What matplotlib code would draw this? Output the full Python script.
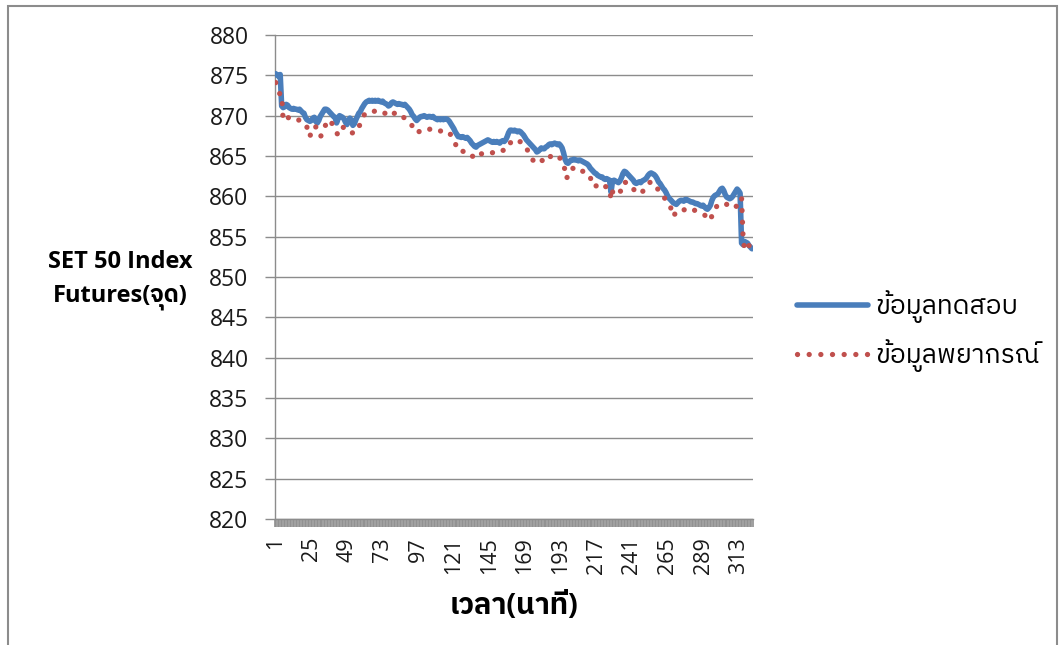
import matplotlib
matplotlib.use("Agg")
import matplotlib.pyplot as plt
from matplotlib import font_manager
from matplotlib.ft2font import FT2Font
from matplotlib.patches import Rectangle
from matplotlib.ticker import FixedLocator

# ---- data -----------------------------------------------------------------
minutes = list(range(1, 323))

test_values = [
    875.2, 875.0, 874.9, 875.1, 871.2,
    871.0, 871.1, 871.4, 871.3, 871.0,
    870.9, 870.8, 870.9, 870.8, 870.8,
    870.7, 870.8, 870.6, 870.4, 870.3,
    869.8, 869.5, 869.4, 869.3, 869.4,
    869.7, 869.8, 869.3, 869.1, 869.4,
    869.9, 870.2, 870.5, 870.8, 870.8,
    870.7, 870.5, 870.3, 870.1, 869.9,
    869.8, 869.1, 869.6, 870.0, 869.9,
    869.8, 869.6, 869.2, 868.9, 869.4,
    869.7, 869.4, 868.8, 869.0, 869.5,
    869.9, 870.3, 870.5, 870.9, 871.2,
    871.5, 871.7, 871.8, 871.9, 871.8,
    871.9, 871.8, 871.9, 871.8, 871.9,
    871.8, 871.7, 871.8, 871.6, 871.5,
    871.4, 871.2, 871.3, 871.6, 871.7,
    871.6, 871.5, 871.4, 871.5, 871.4,
    871.4, 871.3, 871.4, 871.2, 871.0,
    870.8, 870.5, 870.1, 869.9, 869.6,
    869.4, 869.6, 869.8, 869.9, 869.9,
    870.0, 869.9, 869.8, 869.9, 869.9,
    869.8, 869.9, 869.7, 869.6, 869.5,
    869.6, 869.5, 869.6, 869.5, 869.6,
    869.6, 869.5, 869.3, 869.0, 868.7,
    868.4, 868.0, 867.7, 867.4, 867.4,
    867.3, 867.4, 867.3, 867.2, 867.3,
    867.1, 866.9, 866.6, 866.4, 866.2,
    866.1, 866.3, 866.4, 866.5, 866.6,
    866.7, 866.8, 866.9, 867.0, 866.9,
    866.8, 866.7, 866.8, 866.7, 866.8,
    866.7, 866.6, 866.8, 866.9, 866.8,
    867.0, 867.4, 867.9, 868.2, 868.2,
    868.1, 868.2, 868.1, 868.0, 868.1,
    868.0, 867.8, 867.6, 867.3, 867.0,
    866.8, 866.6, 866.4, 866.2, 866.0,
    865.8, 865.5, 865.6, 865.8, 866.0,
    865.9, 865.9, 866.1, 866.2, 866.4,
    866.5, 866.4, 866.5, 866.6, 866.5,
    866.4, 866.5, 866.3, 866.0, 865.4,
    864.6, 864.2, 864.1, 864.3, 864.5,
    864.5, 864.6, 864.5, 864.5, 864.4,
    864.5, 864.4, 864.3, 864.2, 864.1,
    864.0, 863.8, 863.5, 863.3, 863.1,
    862.9, 862.8, 862.6, 862.5, 862.4,
    862.4, 862.2, 862.1, 862.2, 862.1,
    862.0, 860.5, 861.9, 862.0, 861.9,
    861.8, 861.7, 861.9, 862.3, 862.8,
    863.1, 863.0, 862.8, 862.6, 862.4,
    862.2, 862.0, 861.7, 861.6, 861.7,
    861.8, 861.7, 861.9, 862.0, 862.1,
    862.3, 862.6, 862.8, 862.9, 862.8,
    862.7, 862.5, 862.2, 861.8, 861.6,
    861.3, 861.0, 860.8, 860.5, 860.1,
    859.8, 859.6, 859.4, 859.2, 859.1,
    859.0, 859.2, 859.4, 859.5, 859.5,
    859.4, 859.6, 859.6, 859.5, 859.4,
    859.3, 859.3, 859.2, 859.1, 859.1,
    859.0, 858.9, 858.8, 858.9, 858.7,
    858.5, 858.4, 858.6, 858.9, 859.5,
    859.9, 860.1, 860.2, 860.3, 860.6,
    860.9, 861.0, 860.7, 860.2, 859.9,
    859.8, 859.7, 859.8, 860.0, 860.3,
    860.6, 860.9, 860.7, 860.4, 854.2,
    854.0, 854.4, 854.3, 854.2, 853.9,
    853.7, 853.5,
]

forecast_values = [
    874.1, 873.5, 873.0, 872.6, 872.6,
    869.4, 869.5, 869.7, 869.8, 869.7,
    869.6, 869.5, 869.5, 869.6, 869.5,
    869.4, 869.5, 869.3, 869.0, 868.8,
    868.7, 868.6, 867.6, 867.4, 868.0,
    868.5, 868.7, 868.6, 868.2, 867.8,
    867.4, 867.6, 868.3, 868.6, 869.0,
    869.4, 869.5, 869.3, 869.0, 868.7,
    868.4, 867.9, 867.6, 867.9, 868.3,
    868.6, 868.5, 868.3, 868.1, 868.0,
    868.0, 867.8, 867.9, 867.9, 867.9,
    868.1, 868.5, 869.1, 869.5, 869.9,
    870.2, 870.3, 870.4, 870.5, 870.5,
    870.6, 870.5, 870.6, 870.5, 870.5,
    870.4, 870.5, 870.4, 870.3, 870.3,
    870.2, 870.0, 869.9, 870.0, 870.2,
    870.3, 870.3, 870.2, 870.3, 870.2,
    870.0, 869.8, 869.7, 869.6, 869.4,
    869.2, 869.1, 868.7, 868.3, 868.0,
    868.0, 867.9, 868.1, 868.2, 868.2,
    868.3, 868.4, 868.4, 868.4, 868.3,
    868.4, 868.3, 868.3, 868.2, 868.2,
    868.2, 868.1, 868.1, 868.0, 868.1,
    868.0, 868.0, 867.9, 867.6, 867.2,
    867.0, 866.6, 866.0, 865.8, 865.6,
    865.5, 865.6, 865.5, 865.4, 865.3,
    865.4, 865.3, 865.1, 864.9, 864.7,
    864.7, 864.8, 865.0, 865.2, 865.3,
    865.3, 865.4, 865.5, 865.5, 865.5,
    865.5, 865.4, 865.5, 865.4, 865.4,
    865.5, 865.6, 865.6, 865.7, 865.7,
    865.7, 865.9, 866.3, 866.6, 866.8,
    866.6, 866.7, 866.8, 866.8, 866.7,
    866.8, 866.6, 866.4, 866.1, 866.0,
    865.6, 865.1, 864.8, 864.6, 864.3,
    864.2, 864.1, 864.2, 864.4, 864.5,
    864.4, 864.5, 864.3, 864.4, 864.6,
    864.9, 865.1, 865.0, 864.9, 864.9,
    864.8, 864.9, 864.6, 864.5, 863.8,
    863.3, 862.2, 862.6, 863.1, 863.4,
    863.5, 863.4, 863.5, 863.4, 863.5,
    863.3, 863.2, 863.1, 862.9, 862.8,
    862.7, 862.7, 862.5, 861.4, 861.3,
    861.2, 861.3, 861.5, 861.6, 861.6,
    861.5, 861.3, 861.2, 861.2, 861.1,
    861.0, 859.6, 860.5, 861.0, 860.9,
    860.8, 860.8, 860.6, 860.7, 861.2,
    861.8, 861.7, 861.5, 861.3, 861.2,
    861.2, 861.0, 860.6, 860.4, 860.4,
    860.4, 860.4, 860.5, 860.8, 861.2,
    861.3, 861.5, 861.7, 861.8, 861.8,
    861.6, 861.3, 861.0, 860.8, 860.7,
    860.4, 860.1, 859.8, 859.6, 859.2,
    858.9, 858.7, 858.2, 857.5, 857.8,
    858.1, 858.2, 858.3, 858.3, 858.4,
    858.3, 858.4, 858.5, 858.6, 858.6,
    858.5, 858.4, 858.3, 858.2, 858.1,
    858.0, 857.9, 857.8, 857.8, 857.7,
    857.5, 857.3, 857.1, 857.0, 857.6,
    858.3, 858.5, 858.7, 858.9, 859.0,
    859.1, 859.1, 859.2, 859.1, 859.0,
    858.9, 858.8, 858.7, 858.6, 858.5,
    858.6, 859.0, 859.5, 859.8, 859.8,
    855.0, 853.4, 853.6, 854.0, 853.9,
    853.6, 853.3,
]

series_labels = ["ข้อมูลทดสอบ", "ข้อมูลพยากรณ์"]
x_tick_labels = [str(m) for m in range(1, 323, 24)]
y_ticks = list(range(820, 881, 5))
x_title = "เวลา(นาที)"
y_title = "SET 50 Index\nFutures(จุด)"


# ---- fonts ----------------------------------------------------------------
def family_with_glyphs(sample, prefer=()):
    found = []
    for entry in font_manager.fontManager.ttflist:
        try:
            cmap = FT2Font(entry.fname).get_charmap()
        except Exception:
            continue
        if all(ord(ch) in cmap for ch in sample) and entry.name not in found:
            found.append(entry.name)
    for name in prefer:
        if name in found:
            return name
    for name in found:
        if "Thai" in name:
            return name
    return found[0] if found else "DejaVu Sans"


thai_family = family_with_glyphs("ข้อมูลทดสอบพยากรณ์เวลานาทีจุด")
latin_family = "Open Sans"
text_families = [latin_family, thai_family, "DejaVu Sans"]

# ---- figure ---------------------------------------------------------------
W, H = 1064, 645
fig = plt.figure(figsize=(W / 100, H / 100), dpi=100)
fig.patch.set_facecolor("white")

left, right, top, bottom = 275, 752.7, 35, 519
ax = fig.add_axes([left / W, 1 - bottom / H, (right - left) / W, (bottom - top) / H])

grid_color = "#8c8c8c"

test_line, = ax.plot(minutes, test_values, color="#4a7ebb", lw=4.0,
                     solid_capstyle="round", solid_joinstyle="round",
                     label=series_labels[0], zorder=3)
fc_line, = ax.plot(minutes, forecast_values, color="#c0504d", lw=3.8,
                   linestyle=(0, (0.01, 2.2)), dash_capstyle="round",
                   label=series_labels[1], zorder=4)

ax.set_xlim(0.5, len(minutes) + 0.5)
ax.set_ylim(820, 880)
ax.set_yticks(y_ticks)
ax.set_yticklabels([str(v) for v in y_ticks])

ax.set_xticks(list(range(1, 323, 24)))
ax.set_xticklabels(x_tick_labels, rotation=90)
ax.xaxis.set_minor_locator(FixedLocator([k + 0.5 for k in range(0, len(minutes) + 1)]))

ax.grid(axis="y", color=grid_color, lw=1.0)
ax.set_axisbelow(True)
for side in ("top", "right"):
    ax.spines[side].set_visible(False)
for side in ("left", "bottom"):
    ax.spines[side].set_color(grid_color)
    ax.spines[side].set_linewidth(1.0)

ax.tick_params(axis="y", length=7, width=1.0, color=grid_color, pad=12,
               labelsize=16.5, labelcolor="#1a1a1a")
ax.tick_params(axis="x", which="major", length=0, pad=13,
               labelsize=15.5, labelcolor="#1a1a1a")
ax.tick_params(axis="x", which="minor", length=6, width=1.2, color="#8e8e8e")
for lab in ax.get_xticklabels() + ax.get_yticklabels():
    lab.set_family(text_families)

ax.set_xlabel(x_title, family=text_families, fontsize=21, fontweight="bold",
              labelpad=13)
fig.text(120 / W, 1 - 280 / H, y_title, family=text_families, fontsize=17,
         fontweight="bold", ha="center", va="center", linespacing=1.55)

leg = fig.legend(handles=[test_line, fc_line], labels=series_labels,
                 loc="upper left", bbox_to_anchor=(797 / W, 1 - 290 / H),
                 frameon=False, borderpad=0, borderaxespad=0,
                 handlelength=2.7, handletextpad=0.27,
                 labelspacing=0.62, prop={"family": text_families, "size": 19})

# outer chart border
fig.add_artist(Rectangle((8 / W, -0.05), (1057 - 8) / W, 1.05 - 6 / H,
                         transform=fig.transFigure, fill=False,
                         edgecolor="#8c8c8c", lw=1.5))

fig.savefig("out.png", dpi=100)
